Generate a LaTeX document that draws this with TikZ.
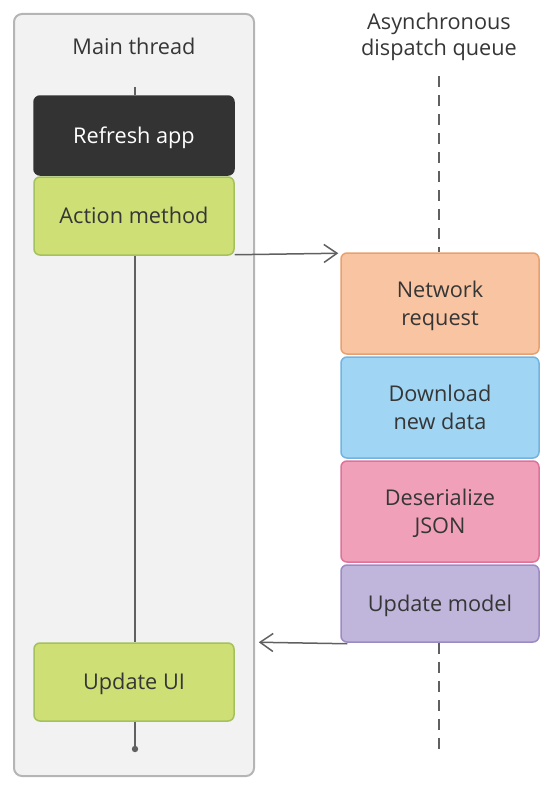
\documentclass[tikz,border=0pt]{standalone}
\usepackage{fontspec}
\setmainfont{Open Sans}
\usetikzlibrary{arrows.meta,calc}
\definecolor{panelfill}{HTML}{F2F2F2}
\definecolor{panelline}{HTML}{B5B5B5}
\definecolor{darkbox}{HTML}{333333}
\definecolor{greenfill}{HTML}{CEDF75}
\definecolor{greenline}{HTML}{A3C15C}
\definecolor{orangefill}{HTML}{F8C4A2}
\definecolor{orangeline}{HTML}{E8A06F}
\definecolor{bluefill}{HTML}{A0D5F3}
\definecolor{blueline}{HTML}{72B3E0}
\definecolor{pinkfill}{HTML}{F0A1B9}
\definecolor{pinkline}{HTML}{E07199}
\definecolor{purplefill}{HTML}{C0B5DB}
\definecolor{purpleline}{HTML}{9C8AC4}
\definecolor{txt}{HTML}{363636}
\definecolor{conn}{HTML}{606060}
% two lines of text, centred between the cap top of the first and the baseline of the second
\newcommand{\twolines}[3][28pt]{\raisebox{0pt}[15.5pt][#1]{\begin{tabular}[t]{@{}c@{}}#2\\#3\end{tabular}}}
\tikzset{
  box/.style={rounded corners=6pt, line width=1.5pt, text=txt,
    font=\fontsize{21.7}{28}\selectfont, inner sep=0pt, text height=15.5pt, text depth=0pt},
  twobox/.style={text height=, text depth=},
  leftbox/.style={box, minimum width=200pt, minimum height=78pt},
  rightbox/.style={box, minimum width=198pt, minimum height=101pt},
  label/.style={text=txt, font=\fontsize{21.7}{26}\selectfont, inner sep=0pt, text height=15.5pt, text depth=0pt},
  connector/.style={draw=conn, line width=1.5pt},
  arrowline/.style={connector, -{Straight Barb[length=13pt,width=18pt,line width=1.5pt]}},
  queueline/.style={draw=conn, line width=2pt, dash pattern=on 11pt off 8pt}
}
\begin{document}
\begin{tikzpicture}[x=1pt,y=-1pt]
\useasboundingbox (0,0) rectangle (552,792);
% main thread panel
\path[fill=panelfill, draw=panelline, line width=2pt, rounded corners=8pt] (14,14) rectangle (254,776);
\node[label] (mainlbl) at (134,47) {Main thread};
\node[label, twobox] (asynclbl) at (439,35) {\twolines[26pt]{Asynchronous}{dispatch queue}};
% queue dashed line
\coordinate (qtop) at (439,76);
\coordinate (qbot) at (439,750);
% left boxes
\node[leftbox, fill=darkbox, draw=darkbox, text=white, minimum height=79pt] (refresh) at (134,135.5) {Refresh app};
\node[leftbox, fill=greenfill, draw=greenline] (action) at (134,216) {Action method};
\node[leftbox, fill=greenfill, draw=greenline] (updateui) at (134,682) {Update UI};
% right boxes
\node[rightbox, twobox, fill=orangefill, draw=orangeline] (network) at (440,303.5) {\twolines{Network}{request}};
\node[rightbox, twobox, fill=bluefill, draw=blueline] (download) at (440,407.5) {\twolines{Download}{new data}};
\node[rightbox, twobox, fill=pinkfill, draw=pinkline] (deser) at (440,511.5) {\twolines{Deserialize}{JSON}};
\node[rightbox, fill=purplefill, draw=purpleline, minimum height=77pt] (model) at (440,603.5) {Update model};
% dashed queue line
\draw[queueline] (qtop) -- (qtop |- network.north);
\draw[queueline] (qbot |- model.south) -- (qbot);
% main thread line
\coordinate (mtop) at (135,87);
\coordinate (mdot) at (135,749);
\draw[connector] (mtop) -- (mtop |- refresh.north);
\draw[connector] (mtop |- action.south) -- (mtop |- updateui.north);
\draw[connector] (mtop |- updateui.south) -- (mdot);
\fill[conn] (mdot) circle (3.2pt);
% arrows
\draw[arrowline] ([yshift=1pt]action.south east) -- ([xshift=-2pt,yshift=-1pt]network.north west);
\draw[arrowline] ([xshift=7pt,yshift=-1pt]model.south west) -- ([xshift=24pt]updateui.north east);
\end{tikzpicture}
\end{document}
